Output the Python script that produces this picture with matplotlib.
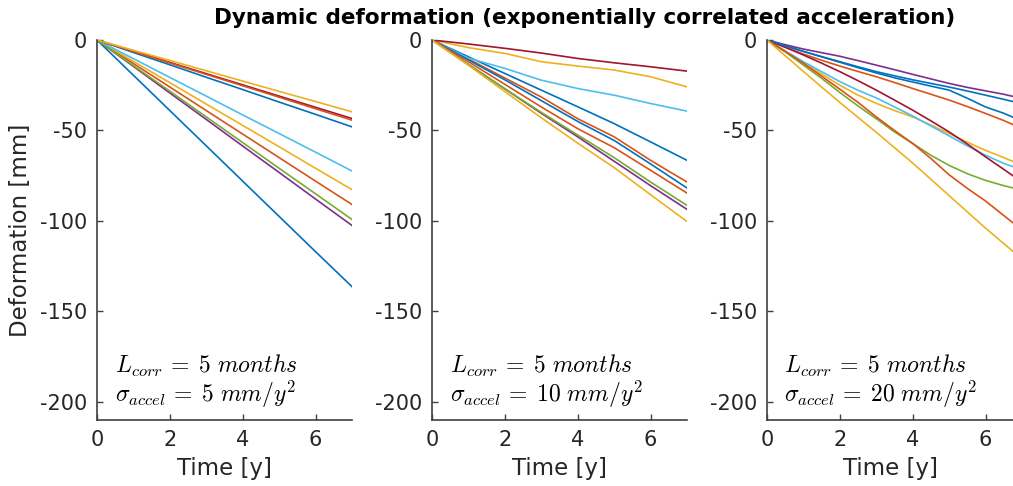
import matplotlib
matplotlib.use("Agg")
import matplotlib.pyplot as plt

plt.rcParams['font.family'] = ['DejaVu Sans']
plt.rcParams['mathtext.fontset'] = 'cm'
plt.rcParams['axes.unicode_minus'] = False

# time axes [years]
years = [0, 1, 2, 3, 4, 5, 6, 7]
years_half = [0, 0.5, 1, 1.5, 2, 2.5, 3, 3.5, 4, 4.5, 5, 5.5, 6, 6.5, 7]

# MATLAB default colour order (10 lines, colours cycle)
line_colors = ['#0072BD', '#D95319', '#EDB120', '#7E2F8E', '#77AC30',
               '#4DBEEE', '#A2142F', '#0072BD', '#D95319', '#EDB120']

# Panel 1: sigma_accel = 5 mm/y^2 (deformation in mm, yearly)
p1_blue1 = [0, -19.5, -39.0, -58.5, -78.0, -97.5, -117.0, -136.3]
p1_orange1 = [0, -13.0, -26.0, -39.0, -52.0, -65.0, -78.0, -90.9]
p1_yellow1 = [0, -11.8, -23.6, -35.4, -47.2, -59.0, -70.9, -82.7]
p1_purple = [0, -14.6, -29.3, -43.9, -58.6, -73.2, -87.9, -102.5]
p1_green = [0, -14.2, -28.3, -42.5, -56.7, -70.9, -85.0, -99.2]
p1_lightblue = [0, -10.3, -20.7, -31.0, -41.4, -51.7, -62.0, -72.4]
p1_darkred = [0, -6.2, -12.4, -18.6, -24.8, -31.0, -37.2, -43.4]
p1_blue2 = [0, -6.9, -13.7, -20.6, -27.4, -34.3, -41.1, -48.0]
p1_orange2 = [0, -6.3, -12.7, -19.0, -25.3, -31.6, -38.0, -44.3]
p1_yellow2 = [0, -5.7, -11.3, -17.0, -22.7, -28.4, -34.0, -39.7]

# Panel 2: sigma_accel = 10 mm/y^2 (yearly)
p2_blue1 = [0, -9.3, -18.5, -27.7, -36.9, -46.2, -56.3, -66.5]
p2_orange1 = [0, -10.5, -21.0, -31.5, -43.5, -53.5, -66.5, -78.5]
p2_yellow1 = [0, -4.2, -7.4, -12.0, -14.4, -16.6, -20.3, -25.9]
p2_purple = [0, -13.5, -27.0, -40.5, -53.5, -67.0, -80.5, -93.6]
p2_green = [0, -13.5, -27.0, -40.0, -52.5, -65.0, -78.5, -91.4]
p2_lightblue = [0, -10.0, -15.7, -22.2, -26.8, -30.5, -35.1, -39.3]
p2_darkred = [0, -2.2, -4.6, -7.2, -10.2, -12.6, -14.8, -17.2]
p2_blue2 = [0, -11.0, -22.0, -33.5, -45.0, -55.5, -68.5, -81.8]
p2_orange2 = [0, -12.0, -24.5, -37.0, -49.0, -59.5, -72.0, -84.6]
p2_yellow2 = [0, -14.0, -28.5, -43.0, -57.0, -70.5, -85.5, -100.3]

# Panel 3: sigma_accel = 20 mm/y^2 (half-yearly)
p3_blue1 = [0, -3.2, -6.3, -9.2, -12.0, -14.8, -17.5, -19.8, -22.0, -24.0,
            -26.0, -28.2, -30.5, -32.8, -35.2]
p3_orange1 = [0, -4.0, -7.8, -11.2, -14.4, -17.4, -20.3, -23.5, -26.8, -30.0,
              -33.2, -36.8, -40.6, -44.5, -49.0]
p3_yellow1 = [0, -6.5, -12.5, -18.8, -25.0, -30.5, -35.0, -39.0, -42.5, -47.0,
              -51.7, -56.5, -61.0, -65.0, -69.2]
p3_purple = [0, -2.6, -5.0, -7.0, -9.0, -11.4, -13.9, -16.4, -19.0, -21.5,
             -24.0, -26.2, -28.1, -30.0, -32.3]
p3_green = [0, -6.5, -13.9, -21.2, -29.0, -36.5, -43.5, -50.8, -57.2, -63.7,
            -69.3, -73.9, -77.6, -80.5, -83.0]
p3_lightblue = [0, -6.0, -12.0, -17.5, -23.0, -27.8, -32.0, -37.0, -42.0, -47.5,
                -53.0, -58.5, -63.7, -68.2, -71.8]
p3_darkred = [0, -4.0, -8.3, -12.8, -17.5, -22.5, -27.7, -33.2, -38.8, -44.7,
              -50.8, -57.5, -64.6, -71.5, -78.5]
p3_blue2 = [0, -3.2, -6.3, -9.3, -12.3, -15.3, -18.2, -20.9, -23.2, -25.5,
            -27.7, -32.2, -37.0, -40.5, -44.8]
p3_orange2 = [0, -6.3, -12.9, -20.0, -27.2, -34.5, -42.5, -50.0, -57.2, -65.5,
              -74.5, -82.0, -89.0, -97.0, -105.0]
p3_yellow2 = [0, -8.7, -17.4, -26.0, -34.5, -42.8, -51.0, -59.5, -68.0, -77.0,
              -86.0, -95.0, -104.0, -112.5, -121.0]

panel1 = [p1_blue1, p1_orange1, p1_yellow1, p1_purple, p1_green,
          p1_lightblue, p1_darkred, p1_blue2, p1_orange2, p1_yellow2]
panel2 = [p2_blue1, p2_orange1, p2_yellow1, p2_purple, p2_green,
          p2_lightblue, p2_darkred, p2_blue2, p2_orange2, p2_yellow2]
panel3 = [p3_blue1, p3_orange1, p3_yellow1, p3_purple, p3_green,
          p3_lightblue, p3_darkred, p3_blue2, p3_orange2, p3_yellow2]
panel_times = [years, years, years_half]

sigma_labels = ['5', '10', '20']
yticks = [0, -50, -100, -150, -200]
ytick_labels = ['0', '-50', '-100', '-150', '-200']
xticks = [0, 2, 4, 6]
xtick_labels = ['0', '2', '4', '6']

title = 'Dynamic deformation (exponentially correlated acceleration)'

W, H = 1013, 486
fig = plt.figure(figsize=(W / 100, H / 100), dpi=100)

ax_left_px = [97, 432, 767]
ax_w_px = 255
ax_bottom_px = 66
ax_h_px = 380
px_per_year = ax_w_px / 7.0

axis_col = '#404040'
text_col = '#262626'

for i, data in enumerate([panel1, panel2, panel3]):
    left = ax_left_px[i]
    width = min(ax_w_px, W - left)
    xmax = width / px_per_year
    ax = fig.add_axes([left / W, ax_bottom_px / H, width / W, ax_h_px / H])
    for series, col in zip(data, line_colors):
        ax.plot(panel_times[i], series, color=col, lw=1.2)
    ax.set_xlim(0, xmax)
    ax.set_ylim(-210, 0)
    ax.set_xticks(xticks)
    ax.set_xticklabels(xtick_labels)
    ax.set_yticks(yticks)
    ax.set_yticklabels(ytick_labels)
    for s in ['top', 'right']:
        ax.spines[s].set_visible(False)
    for s in ['left', 'bottom']:
        ax.spines[s].set_color(axis_col)
        ax.spines[s].set_linewidth(1.2)
    ax.tick_params(direction='in', length=4, width=1.0, colors=axis_col,
                   labelcolor=text_col, labelsize=15, pad=7)
    ax.set_xlabel('Time [y]', fontsize=16.5, color=text_col, labelpad=5)
    if i == 0:
        ax.set_ylabel('Deformation [mm]', fontsize=16.5, color=text_col, labelpad=6)
    ax.text(0.07, 0.125, r'$L_{corr}\,=\;5\ months$', transform=ax.transAxes,
            fontsize=17, va='baseline', ha='left', color='black')
    ax.text(0.07, 0.047, r'$\sigma_{accel}\,=\;' + sigma_labels[i] + r'\ mm/y^2$',
            transform=ax.transAxes, fontsize=17, va='baseline', ha='left', color='black')

fig.text(585 / W, 1 - 18 / H, title, fontsize=15.5, fontweight='bold',
         ha='center', va='center', color='black')

fig.savefig('out.png', dpi=100)
